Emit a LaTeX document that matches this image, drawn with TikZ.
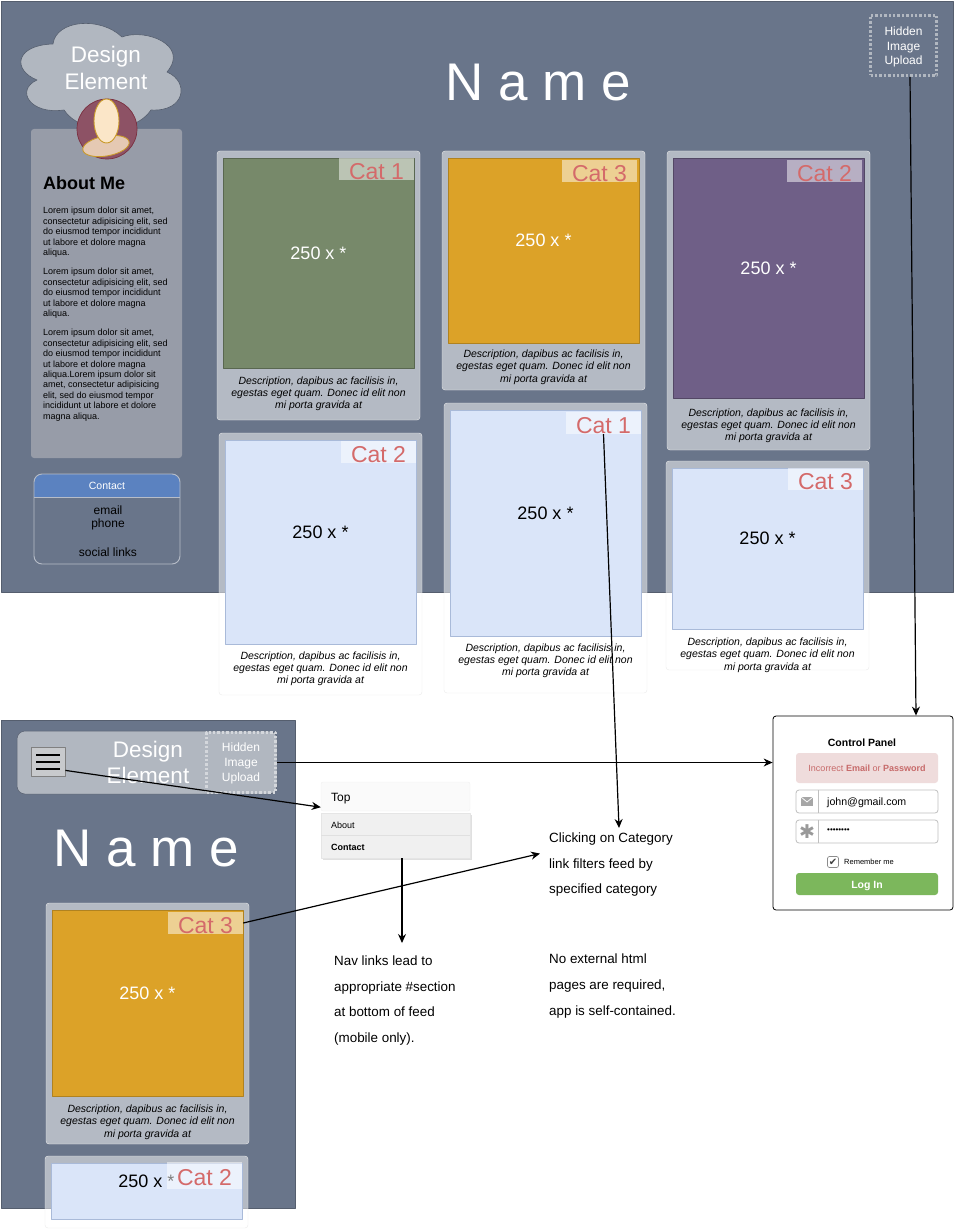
\documentclass[tikz,border=0pt]{standalone}
\usepackage{fontspec}
\setmainfont{Liberation Sans}
\newfontfamily\symbolfont{DejaVu Sans}
\usetikzlibrary{positioning,shapes.geometric,arrows.meta}
\definecolor{slate}{HTML}{69758A}
\definecolor{slateline}{HTML}{555E6E}
\definecolor{paleslate}{HTML}{B1B7C0}
\definecolor{aboutgray}{HTML}{979CA8}
\definecolor{olive}{HTML}{77896A}
\definecolor{amber}{HTML}{DCA228}
\definecolor{plum}{HTML}{6F5F87}
\definecolor{paleblue}{HTML}{DAE5F9}
\definecolor{blueline}{HTML}{A9BAD9}
\definecolor{catred}{HTML}{D46A6A}
\definecolor{contactblue}{HTML}{5B82C0}
\definecolor{contactline}{HTML}{B7BDC8}
\definecolor{wine}{HTML}{8D5265}
\definecolor{wineline}{HTML}{7A2F3F}
\definecolor{skin}{HTML}{FBE6C8}
\definecolor{skinline}{HTML}{C99A2A}
\definecolor{shoulder}{HTML}{E5C9B3}
\definecolor{alertbg}{HTML}{EFDCDC}
\definecolor{alerttext}{HTML}{C76A6A}
\definecolor{loggreen}{HTML}{7CB75C}
\tikzset{
fs/.style={font=\fontsize{#1}{#1}\selectfont},
panelbg/.style={fill=slate,draw=slateline,line width=.6pt,inner sep=0pt},
cardbox/.style={fill=white,fill opacity=.5,draw=black!8,rounded corners=3pt,inner sep=0pt},
imgbox/.style={inner sep=0pt,line width=.7pt},
imgblue/.style={imgbox,fill=paleblue,draw=blueline},
imgolive/.style={imgbox,fill=olive,draw=olive!75!black},
imgamber/.style={imgbox,fill=amber,draw=amber!80!black},
imgplum/.style={imgbox,fill=plum,draw=plum!75!black},
cattag/.style={fill=white,fill opacity=.5,text opacity=1,text=catred,fs=23,inner sep=0pt,minimum width=75pt,minimum height=22pt,text height=20.4pt,text depth=0pt},
desctext/.style={font=\itshape\fontsize{10.5}{12.3}\selectfont,align=center,inner sep=0pt},
note/.style={font=\fontsize{13.4}{25.6}\selectfont,align=left,inner sep=0pt},
hiddenbox/.style={draw=paleslate,dash pattern=on 2.4pt off 2pt,line width=2.6pt,inner sep=0pt,text=white,align=center,font=\fontsize{12}{14.6}\selectfont},
lorem/.style={font=\fontsize{9}{10.45}\selectfont,align=left,inner sep=0pt,anchor=north west},
field/.style={draw=black!25,fill=white,rounded corners=3pt,line width=.8pt,inner sep=0pt,minimum width=142pt,minimum height=23pt},
link/.style={->,line width=1.2pt},
}
% name, left, top, bottom, image bottom, image style, category, size colour, tag options
\newcommand{\feedcard}[9]{
\node[cardbox,minimum width=203pt,minimum height={(#4)-(#3)}] (#1card) at ({#2+101.5},{((#3)+(#4))/2}) {};
\node[#6,minimum width=191pt,minimum height={(#5)-(#3)-7}] (#1img) at ({#2+101.5},{((#3)+7+(#5))/2}) {};
\node[fs=18,text=#8,inner sep=0pt] (#1size) at ([yshift=10pt]#1img.center) {250 x *};
\node[cattag,#9] (#1tag) at ({#2+159.5},{#3+19}) {#7};
}
\newcommand{\carddesc}[2]{
\node[desctext,below=#2 of #1img] (#1desc) {Description, dapibus ac facilisis in,\\egestas eget quam. Donec id elit non\\mi porta gravida at};
}
\begin{document}
\begin{tikzpicture}[x=1pt,y=-1pt,>={Stealth[length=9pt,width=8pt]},line join=round]
\useasboundingbox (0,0) rectangle (954,1230);
% desktop layout
\node[panelbg,minimum width=952pt,minimum height=591pt] (desktop) at (477,296.5) {};
\node[fs=53,text=white,inner sep=0pt] (nameTop) at (538,83) {N a m e};
\node[hiddenbox,minimum width=66pt,minimum height=60pt] (hiddenTop) at (903.5,45.5) {\rule{0pt}{12pt}Hidden\\Image\\Upload};
% cloud
\draw[fill=paleslate,draw=slateline,line width=.6pt] (53,44)
.. controls (56,20) and (100,16) .. (122,37)
.. controls (145,28) and (190,45) .. (167,72)
.. controls (190,82) and (185,112) .. (151,110)
.. controls (135,135) and (80,135) .. (64,110)
.. controls (30,115) and (15,90) .. (37,80)
.. controls (12,70) and (15,45) .. (53,44) -- cycle;
\node[font=\fontsize{22.5}{26.5}\selectfont,text=white,align=center,inner sep=0pt] (cloudText) at (106,68) {Design\\Element};
% about panel
\node[fill=aboutgray,rounded corners=3pt,inner sep=0pt,minimum width=151pt,minimum height=329pt] (about) at (106.5,293.5) {};
\node[circle,fill=wine,draw=wineline,line width=.7pt,minimum size=60pt,inner sep=0pt] (avatar) at (107,129) {};
\node[ellipse,fill=shoulder,draw=skinline,line width=.9pt,minimum width=47pt,minimum height=20pt,inner sep=0pt,rotate=10] (shoulders) at (106,146) {};
\node[ellipse,fill=skin,draw=skinline,line width=.9pt,minimum width=25pt,minimum height=44pt,inner sep=0pt] (head) at (106.5,121) {};
\node[font=\bfseries\fontsize{18}{18}\selectfont,inner sep=0pt,anchor=west] (aboutTitle) at (43,183) {About Me};
\node[lorem] (loremA) at (43,207) {Lorem ipsum dolor sit amet,\\consectetur adipisicing elit, sed\\do eiusmod tempor incididunt\\ut labore et dolore magna\\aliqua.};
\node[lorem] (loremB) at (43,268) {Lorem ipsum dolor sit amet,\\consectetur adipisicing elit, sed\\do eiusmod tempor incididunt\\ut labore et dolore magna\\aliqua.};
\node[lorem] (loremC) at (43,329) {Lorem ipsum dolor sit amet,\\consectetur adipisicing elit, sed\\do eiusmod tempor incididunt\\ut labore et dolore magna\\aliqua.Lorem ipsum dolor sit\\amet, consectetur adipisicing\\elit, sed do eiusmod tempor\\incididunt ut labore et dolore\\magna aliqua.};
% contact
\draw[fill=contactblue,draw=none] (34,497) -- (34,482) arc[start angle=180,end angle=270,radius=8] -- (172,474) arc[start angle=270,end angle=360,radius=8] -- (180,497) -- cycle;
\draw[contactline,line width=.9pt,rounded corners=8pt] (34,474) rectangle (180,564);
\draw[contactline,line width=.9pt] (34,497) -- (180,497);
\node[fs=10.5,text=white,inner sep=0pt] (contactTitle) at (107,486) {Contact};
\node[fs=12,inner sep=0pt] (contactEmail) at (108,510) {email};
\node[fs=12,inner sep=0pt] (contactPhone) at (108,524) {phone};
\node[fs=12,inner sep=0pt] (contactSocial) at (108,552) {social links};
% feed cards
\feedcard{olive}{217}{151}{420}{368}{imgolive}{Cat 1}{white}{yshift=1pt}
\carddesc{olive}{8pt}
\feedcard{blueA}{219}{433}{695}{644}{imgblue}{Cat 2}{black}{}
\carddesc{blueA}{7pt}
\feedcard{amber}{442}{151}{390}{343}{imgamber}{Cat 3}{white}{xshift=-2pt,yshift=-1pt}
\carddesc{amber}{6.5pt}
\feedcard{blueB}{444}{403}{693}{636}{imgblue}{Cat 1}{black}{yshift=-1pt}
\carddesc{blueB}{7pt}
\feedcard{plum}{667}{151}{450}{398}{imgplum}{Cat 2}{white}{xshift=-2pt,yshift=-1pt}
\carddesc{plum}{10pt}
\feedcard{blueC}{666}{461}{670}{629}{imgblue}{Cat 3}{black}{yshift=1pt}
\carddesc{blueC}{8.5pt}
% mobile layout
\node[panelbg,minimum width=294pt,minimum height=488pt] (mobile) at (148,964) {};
\node[fill=paleslate,draw=slateline,line width=.5pt,rounded corners=8pt,inner sep=0pt,minimum width=260pt,minimum height=63pt] (mobileHead) at (147,762.5) {};
\node[fill=black!15!white!85!slate,draw=black!50,line width=.8pt,inner sep=0pt,minimum width=34pt,minimum height=29pt] (burger) at (48,761.5) {};
\foreach \ypos in {-7,0,7}
\draw[line width=2pt] ([xshift=-12pt,yshift=\ypos pt]burger.center) -- ([xshift=12pt,yshift=\ypos pt]burger.center);
\node[font=\fontsize{22.5}{26}\selectfont,text=white,align=center,inner sep=0pt] (mobileText) at (148,762) {Design\\Element};
\node[hiddenbox,draw=white!45!paleslate,minimum width=69pt,minimum height=60pt] (hiddenMob) at (241,762.5) {\rule{0pt}{10.5pt}Hidden\\Image\\Upload};
\node[fs=53,text=white,inner sep=0pt] (nameMob) at (146,849) {N a m e};
\feedcard{mobA}{46}{903}{1144}{1096}{imgamber}{Cat 3}{white}{yshift=-1pt}
\carddesc{mobA}{8.5pt}
\feedcard{mobB}{45}{1156}{1228}{1219}{imgblue}{Cat 2}{black}{minimum height=27pt,yshift=-.5pt}
% nav menu
\node[fill=black!2,draw=black!6,rounded corners=2pt,inner sep=0pt,minimum width=149pt,minimum height=29pt] (menuTop) at (395.5,796.5) {};
\node[fs=12,inner sep=0pt,anchor=west] (menuTopText) at (331,798.5) {Top};
\node[fill=black!12,inner sep=0pt,minimum width=149pt,minimum height=45pt] (menuShade) at (397,837) {};
\node[fill=black!6,draw=black!10,inner sep=0pt,minimum width=149pt,minimum height=45pt] (menuList) at (395.5,835.5) {};
\draw[black!12,line width=.8pt] (menuList.west) -- (menuList.east);
\node[fs=9,inner sep=0pt,anchor=west] (menuAbout) at (331,825) {About};
\node[font=\bfseries\fontsize{9}{9}\selectfont,inner sep=0pt,anchor=west] (menuContact) at (331,847) {Contact};
% notes
\node[note,anchor=north west] (catNote) at (549,832.5) {Clicking on Category\\link filters feed by\\specified category};
\node[note,anchor=north west] (htmlNote) at (549,954) {No external html\\pages are required,\\app is self-contained.};
\node[note,anchor=north west] (navNote) at (334,955.5) {Nav links lead to\\appropriate \#section\\at bottom of feed\\(mobile only).};
% control panel
\node[fill=white,draw=black,line width=.8pt,rounded corners=3pt,inner sep=0pt,minimum width=180pt,minimum height=194pt] (panel) at (863,813) {};
\node[font=\bfseries\fontsize{10.5}{10.5}\selectfont,inner sep=0pt] (panelTitle) at (862,743) {Control Panel};
\node[fill=alertbg,rounded corners=3pt,inner sep=0pt,minimum width=142pt,minimum height=30pt,text=alerttext,fs=9] (alert) at (867,768) {Incorrect \textbf{Email} or \textbf{Password}};
\node[field] (emailField) at (867,801.5) {};
\node[field] (passField) at (867,831.5) {};
\draw[black!25,line width=.8pt] (818,790) -- (818,813) (818,820) -- (818,843);
% envelope icon
\fill[black!35] (801,797) rectangle (813,806);
\draw[white,line width=.7pt] (801,797) -- (807,802) -- (813,797);
\node[text=black!40,inner sep=0pt,font=\symbolfont\fontsize{19}{19}\selectfont] (passIcon) at (807,831.5) {✱};
\node[fs=10.6,inner sep=0pt,anchor=west] (emailText) at (827,803) {john@gmail.com};
\node[fs=8,inner sep=0pt,anchor=west] (passText) at (827,831) {••••••••};
\node[draw=black!45,rounded corners=2pt,line width=.7pt,inner sep=0pt,minimum size=11pt,font=\symbolfont\fontsize{10}{10}\selectfont,text=black!75] (rememberBox) at (833,862) {✔};
\node[fs=7.5,inner sep=0pt,anchor=west] (rememberText) at (844,862) {Remember me};
\node[fill=loggreen,rounded corners=3pt,inner sep=0pt,minimum width=142pt,minimum height=22pt,text=white,font=\bfseries\fontsize{10.5}{10.5}\selectfont,text height=8pt,text depth=0pt] (logIn) at (867,884) {Log In};
% links
\draw[link] ([xshift=6.5pt]hiddenTop.south) -- ([xshift=53pt]panel.north);
\draw[link] (hiddenMob.east) -- (hiddenMob.east -| panel.west);
\draw[link] ([yshift=6pt]burger.south east) -- ([yshift=4pt]menuTop.south west);
\draw[link] (blueBtag.south) -- ([xshift=8pt,yshift=4.5pt]catNote.north);
\draw[link] (mobAtag.east) -- ([xshift=-9pt,yshift=11pt]catNote.west);
\draw[link] ([xshift=6.5pt]menuList.south) -- ([xshift=6.5pt,yshift=12.5pt]menuList.south |- navNote.north);
\end{tikzpicture}
\end{document}
